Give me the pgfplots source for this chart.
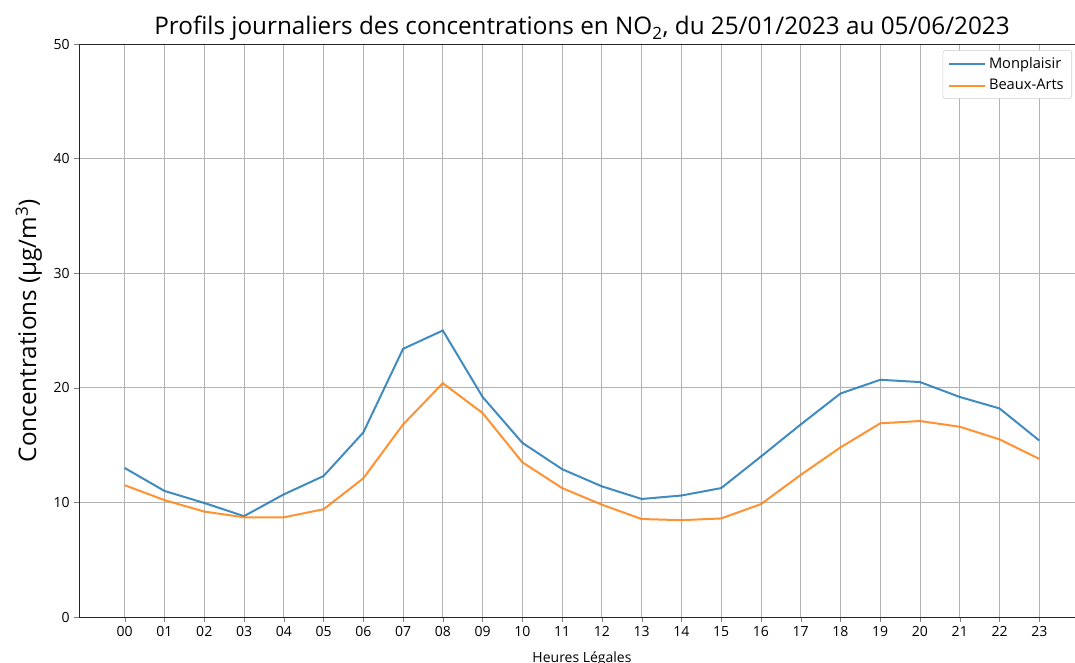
\documentclass[border=0pt]{standalone}
\usepackage{fontspec}
\setmainfont{Open Sans}
\usepackage{pgfplots}
\pgfplotsset{compat=1.18}
\definecolor{mblue}{HTML}{1F77B4}
\definecolor{morange}{HTML}{FF7F0E}
\begin{document}
\begin{tikzpicture}
\path[use as bounding box] (0,0) rectangle (806.25pt,496.5pt);
\begin{axis}[
  at={(59.25pt,33.75pt)}, anchor=south west,
  scale only axis, width=754.5pt, height=429.75pt,
  xmin=-1.15, xmax=24.15, ymin=0, ymax=50,
  xtick={0,...,23},
  xticklabels={00,01,02,03,04,05,06,07,08,09,10,11,12,13,14,15,16,17,18,19,20,21,22,23},
  ytick={0,10,20,30,40,50},
  /pgf/number format/assume math mode=true,
  tick label style={font=\fontsize{10.5}{12}\selectfont},
  grid=major, major grid style={color=black!30, line width=0.6pt},
  tick align=outside, tick pos=left, major tick length=3.5pt,
  axis line style={line width=0.7pt, black!85},
  title={Profils journaliers des concentrations en NO\textsubscript{2}, du 25/01/2023 au 05/06/2023},
  title style={font=\fontsize{18.2}{21}\selectfont, at={(axis description cs:0.5,1)}, anchor=base, yshift=1pt},
  ylabel={Concentrations (µg/m\textsuperscript{3})},
  every axis y label/.style={at={(axis description cs:-0.05,0.5)}, rotate=90, anchor=center, font=\fontsize{18.2}{21}\selectfont},
  xlabel={Heures Légales},
  every axis x label/.style={at={(axis description cs:0.5,0)}, anchor=center, yshift=-31pt, font=\fontsize{10.5}{12}\selectfont},
  legend style={at={(rel axis cs:1,1)}, anchor=north east, xshift=-9.75pt, yshift=-4.5pt, draw=black!20, rounded corners=2pt, font=\fontsize{11}{13}\selectfont, row sep=3pt, inner xsep=4pt, inner ysep=3pt},
  legend cell align=left,
  legend image code/.code={\draw[#1] (0cm,0cm) -- (0.95cm,0cm);},
]
\addplot[color=mblue, opacity=0.85, line width=1.5pt] coordinates {
(0,13.0) (1,11.0) (2,9.95) (3,8.8) (4,10.7) (5,12.3) (6,16.1) (7,23.4) (8,25.0) (9,19.2)
(10,15.2) (11,12.9) (12,11.4) (13,10.3) (14,10.6) (15,11.25) (16,14.0) (17,16.8) (18,19.5)
(19,20.7) (20,20.5) (21,19.2) (22,18.2) (23,15.4)};
\addlegendentry{Monplaisir}
\addplot[color=morange, opacity=0.85, line width=1.5pt] coordinates {
(0,11.5) (1,10.2) (2,9.2) (3,8.7) (4,8.7) (5,9.4) (6,12.1) (7,16.8) (8,20.4) (9,17.8)
(10,13.5) (11,11.25) (12,9.8) (13,8.55) (14,8.45) (15,8.6) (16,9.85) (17,12.4) (18,14.8)
(19,16.9) (20,17.1) (21,16.6) (22,15.5) (23,13.8)};
\addlegendentry{Beaux-Arts}
\end{axis}
\end{tikzpicture}
\end{document}
